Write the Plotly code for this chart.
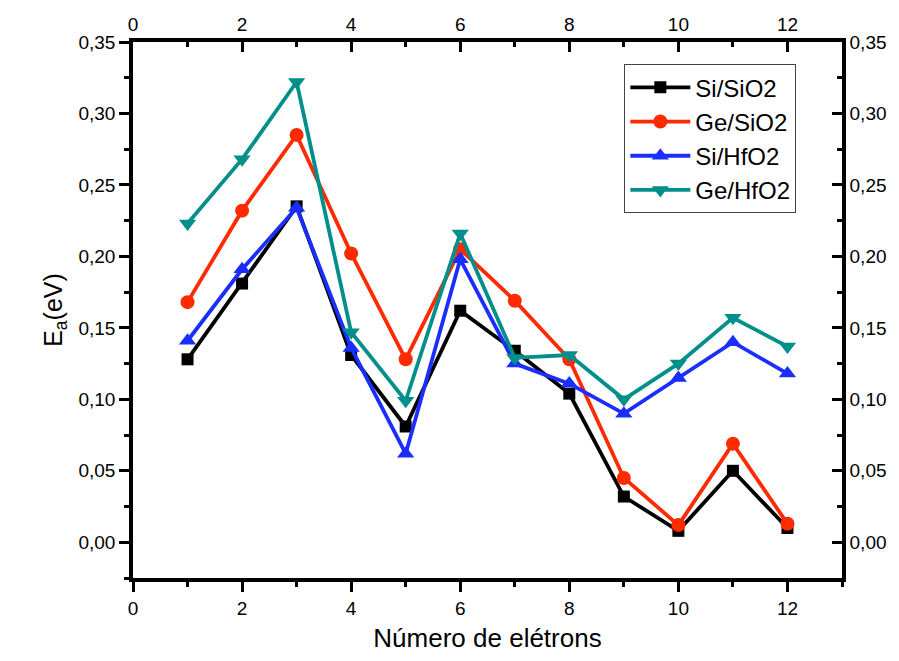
import plotly.graph_objects as go

electrons = [1, 2, 3, 4, 5, 6, 7, 8, 9, 10, 11, 12]
si_sio2 = [0.128, 0.181, 0.235, 0.131, 0.081, 0.162, 0.134, 0.104, 0.032, 0.008, 0.050, 0.010]
ge_sio2 = [0.168, 0.232, 0.285, 0.202, 0.128, 0.205, 0.169, 0.128, 0.045, 0.012, 0.069, 0.013]
si_hfo2 = [0.141, 0.191, 0.234, 0.136, 0.062, 0.198, 0.125, 0.111, 0.090, 0.115, 0.140, 0.118]
ge_hfo2 = [0.223, 0.268, 0.322, 0.147, 0.099, 0.216, 0.129, 0.131, 0.100, 0.125, 0.157, 0.137]

series = [
    ("Si/SiO2", si_sio2, "#000000", "square", 12),
    ("Ge/SiO2", ge_sio2, "#ff2a00", "circle", 14),
    ("Si/HfO2", si_hfo2, "#1a2eff", "triangle-up", 15),
    ("Ge/HfO2", ge_hfo2, "#008f8a", "triangle-down", 15),
]

FONT = "Liberation Sans, Arial, sans-serif"

fig = go.Figure()
for name, ys, col, sym, sz in series:
    fig.add_trace(go.Scatter(
        x=electrons, y=ys, name=name, mode="lines+markers",
        line=dict(color=col, width=3.8),
        marker=dict(symbol=sym, size=sz, color=col),
    ))

# invisible trace to activate the top/right axes
fig.add_trace(go.Scatter(x=electrons, y=si_sio2, xaxis="x2", yaxis="y2",
                         mode="markers", marker=dict(opacity=0),
                         showlegend=False, hoverinfo="skip"))

xr = [0, 13]
yr = [-0.025, 0.35]
common_tick = dict(color="black", family=FONT, size=19)

fig.update_layout(
    width=899, height=661,
    margin=dict(l=133, r=56, t=42, b=80),
    paper_bgcolor="white", plot_bgcolor="white",
    separators=",.",
    font=dict(family=FONT, color="black"),
    showlegend=True,
    legend=dict(
        x=0.693, y=0.9585, xanchor="left", yanchor="top",
        bgcolor="white", bordercolor="#444444", borderwidth=1,
        font=dict(family=FONT, size=24, color="black"),
        itemwidth=60, tracegroupgap=0,
    ),
    xaxis=dict(
        range=xr, dtick=2, tick0=0, showgrid=False, zeroline=False,
        showline=True, linecolor="black", linewidth=3.5,
        ticks="outside", ticklen=10, tickwidth=3, tickcolor="black",
        tickfont=common_tick,
        minor=dict(dtick=1, ticks="outside", ticklen=5, tickwidth=3, tickcolor="black", showgrid=False),
        title=dict(text="Número de elétrons", font=dict(family=FONT, size=26, color="black"), standoff=12),
    ),
    xaxis2=dict(
        range=xr, dtick=2, tick0=0, overlaying="x", side="top", anchor="y",
        showgrid=False, zeroline=False,
        showline=True, linecolor="black", linewidth=3.5,
        ticks="inside", ticklen=10, tickwidth=3, tickcolor="black",
        tickfont=common_tick,
        minor=dict(dtick=1, ticks="inside", ticklen=5, tickwidth=3, tickcolor="black", showgrid=False),
    ),
    yaxis=dict(
        range=yr, dtick=0.05, tick0=0, tickformat=".2f", showgrid=False, zeroline=False,
        showline=True, linecolor="black", linewidth=3.5,
        ticks="outside", ticklen=10, tickwidth=3, tickcolor="black",
        tickfont=common_tick,
        minor=dict(dtick=0.025, tick0=0, ticks="outside", ticklen=5, tickwidth=3, tickcolor="black", showgrid=False),
        title=dict(text="E<sub>a</sub>(eV)", font=dict(family=FONT, size=25, color="black"), standoff=10),
    ),
    yaxis2=dict(
        range=yr, dtick=0.05, tick0=0, tickformat=".2f", overlaying="y", side="right", anchor="x",
        showgrid=False, zeroline=False,
        showline=True, linecolor="black", linewidth=3.5,
        ticks="inside", ticklen=10, tickwidth=3, tickcolor="black",
        tickfont=common_tick,
        minor=dict(dtick=0.025, tick0=0, ticks="inside", ticklen=5, tickwidth=3, tickcolor="black", showgrid=False),
    ),
)

fig.write_html("out.html")
